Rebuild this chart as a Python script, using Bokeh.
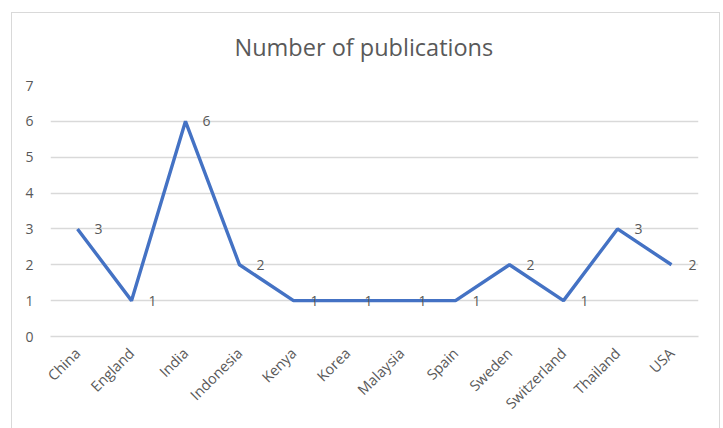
import math
from bokeh.plotting import figure
from bokeh.models import ColumnDataSource, FixedTicker, Title
from bokeh.core.properties import value
from bokeh.embed import file_html
from bokeh.resources import INLINE

countries = ["China", "England", "India", "Indonesia", "Kenya", "Korea",
             "Malaysia", "Spain", "Sweden", "Switzerland", "Thailand", "USA"]
publications = [3, 1, 6, 2, 1, 1, 1, 1, 2, 1, 3, 2]
y_ticks = [0, 1, 2, 3, 4, 5, 6, 7]

FONT = "Open Sans"
GRAY = "#595959"
GRID = "#d9d9d9"

src = ColumnDataSource(dict(x=countries, y=publications,
                            label=[str(v) for v in publications]))

p = figure(width=709, height=424, x_range=countries, y_range=(0, 7),
           output_backend="svg", toolbar_location=None,
           min_border_left=39, min_border_right=22,
           min_border_top=81, min_border_bottom=92)
p.margin = (4, 0, 0, 11)
# light-gray chart border (top, left, right) painted behind a transparent canvas
line = "linear-gradient(#d9d9d9,#d9d9d9)"
p.styles = {"background": (f"{line} 0 8px/100% 1px no-repeat, "
                           f"{line} 0 8px/1px 100% no-repeat, "
                           f"{line} 100% 8px/1px 100% no-repeat, white")}
p.outline_line_color = None
p.background_fill_color = "white"
p.border_fill_color = None

p.title = Title(text="Number of publications", align="left",
                text_font=FONT, text_font_size="23.5px", text_font_style="normal",
                text_color=GRAY, standoff=45, offset=184)

p.line("x", "y", source=src, line_color="#4472C4", line_width=3.4)
p.text("x", "y", text="label", source=src, x_offset=17,
       text_align="left", text_baseline="middle",
       text_font=value(FONT), text_font_size="14px", text_color=GRAY)

p.yaxis.ticker = FixedTicker(ticks=y_ticks)
p.yaxis.axis_line_color = None
p.yaxis.major_tick_line_color = None
p.yaxis.minor_tick_line_color = None
p.yaxis.major_tick_out = 0
p.yaxis.major_tick_in = 0
p.yaxis.major_label_standoff = 17
p.yaxis.major_label_text_font = FONT
p.yaxis.major_label_text_font_size = "14px"
p.yaxis.major_label_text_color = GRAY

p.xaxis.axis_line_color = GRID
p.xaxis.axis_line_width = 1.5
p.xaxis.major_tick_line_color = None
p.xaxis.minor_tick_line_color = None
p.xaxis.major_label_orientation = math.pi / 4
p.xaxis.major_label_standoff = 8
p.xaxis.major_label_text_font = FONT
p.xaxis.major_label_text_font_size = "14.5px"
p.xaxis.major_label_text_color = GRAY

p.xgrid.grid_line_color = None
p.ygrid.grid_line_color = GRID
p.ygrid.grid_line_width = 1.5

open("out.html", "w").write(file_html(p, INLINE))
